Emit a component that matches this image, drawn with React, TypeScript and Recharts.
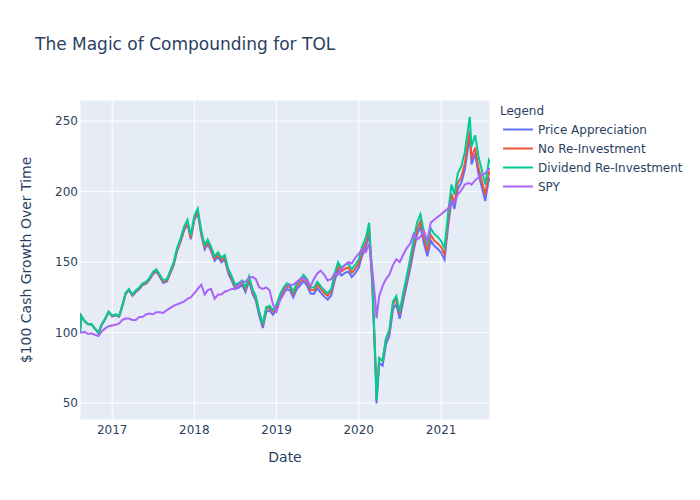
import React from 'react';
import { LineChart, Line, XAxis, YAxis, CartesianGrid } from 'recharts';

const dates = [
  '2016-08-11', '2016-08-16', '2016-09-01', '2016-09-16', '2016-10-01', '2016-10-16', '2016-11-01', '2016-11-16', '2016-12-01', '2016-12-16',
  '2017-01-01', '2017-01-16', '2017-02-01', '2017-02-16', '2017-03-01', '2017-03-16', '2017-04-01', '2017-04-16', '2017-05-01', '2017-05-16', '2017-06-01', '2017-06-16',
  '2017-07-01', '2017-07-16', '2017-08-01', '2017-08-16', '2017-09-01', '2017-09-16', '2017-10-01', '2017-10-16', '2017-11-01', '2017-11-16', '2017-12-01', '2017-12-16',
  '2018-01-01', '2018-01-16', '2018-02-01', '2018-02-16', '2018-03-01', '2018-03-16', '2018-04-01', '2018-04-16', '2018-05-01', '2018-05-16', '2018-06-01', '2018-06-16',
  '2018-07-01', '2018-07-16', '2018-08-01', '2018-08-16', '2018-09-01', '2018-09-16', '2018-10-01', '2018-10-16', '2018-11-01', '2018-11-16', '2018-12-01', '2018-12-16',
  '2019-01-01', '2019-01-16', '2019-02-01', '2019-02-16', '2019-03-01', '2019-03-16', '2019-04-01', '2019-04-16', '2019-05-01', '2019-05-16', '2019-06-01', '2019-06-16',
  '2019-07-01', '2019-07-16', '2019-08-01', '2019-08-16', '2019-09-01', '2019-09-16', '2019-10-01', '2019-10-16', '2019-11-01', '2019-11-16', '2019-12-01', '2019-12-16',
  '2020-01-01', '2020-01-16', '2020-02-01', '2020-02-16', '2020-03-01', '2020-03-16', '2020-03-20', '2020-04-01', '2020-04-16', '2020-05-01', '2020-05-16', '2020-06-01', '2020-06-16',
  '2020-07-01', '2020-07-16', '2020-08-01', '2020-08-16', '2020-09-01', '2020-09-16', '2020-10-01', '2020-10-16', '2020-11-01', '2020-11-16', '2020-12-01', '2020-12-16',
  '2021-01-01', '2021-01-16', '2021-02-01', '2021-02-16', '2021-03-01', '2021-03-16', '2021-04-01', '2021-04-16', '2021-05-01', '2021-05-08', '2021-05-16',
  '2021-06-01', '2021-06-16', '2021-07-01', '2021-07-16', '2021-08-01', '2021-08-06',
];

const priceAppreciation = [
  100, 112, 108, 106, 105.8, 102.7, 99.7, 105.6, 109.5, 114.4,
  111.4, 112.3, 111.3, 119.2, 127.1, 130, 126, 128.8, 130.8, 133.7, 134.7, 137.5, 141.4, 143.3, 139.3, 135.2, 136.2, 142, 147.9, 157.6, 164.5, 172.2, 177.2, 166.2,
  180, 184.7, 169, 159, 162.9, 157.8, 151, 153.8, 149.9, 151.7, 141.9, 136.9, 131, 131.8, 133.8, 128.8, 136.6, 127.7, 122.8, 112, 103.2, 114.8, 115.8, 112.7,
  116.6, 123.3, 128.2, 130.9, 130, 125, 130.8, 133.6, 136.5, 133.5, 127.7, 127.5, 131.4, 128.4, 125.5, 123.4, 126.3, 136.8, 144.5, 140.5, 142.4, 143.3, 139.4, 142.2,
  146, 154.5, 160.3, 170.7, 134.2, 71.8, 49.8, 78.5, 76.6, 91.9, 97.5, 116.6, 120.3, 109.8, 122.1, 133.6, 144.9, 158.2, 169.5, 175.2, 163.7, 154.1, 165.4, 161.6, 159.5,
  156.7, 151.8, 175.5, 194.3, 187.7, 201.7, 206.4, 215.7, 231.8, 239.1, 219.3, 226.8, 212.5, 203, 193.4, 209.4, 207.5,
];

const noReinvestment = [
  100, 112, 108, 106, 106, 102.9, 99.9, 105.9, 109.8, 114.7,
  111.8, 112.7, 111.7, 119.6, 127.6, 130.5, 126.5, 129.4, 131.4, 134.3, 135.3, 138.1, 142.1, 144, 140, 136, 137, 142.8, 148.8, 158.5, 165.5, 173.2, 178.3, 167.3,
  181.3, 186, 170.3, 160.4, 164.3, 159.3, 152.5, 155.3, 151.5, 153.3, 143.5, 138.6, 132.7, 133.5, 135.6, 130.6, 138.5, 129.6, 124.8, 114, 105.2, 116.9, 117.9, 114.8,
  118.8, 125.5, 130.4, 133.2, 132.3, 127.4, 133.2, 136, 139, 136, 130.2, 130.1, 134, 131, 128.1, 126.1, 129, 139.6, 147.3, 143.4, 145.3, 146.2, 142.4, 145.2,
  149.1, 157.6, 163.5, 173.9, 137.4, 75.1, 53.1, 81.9, 80, 95.3, 101, 120.1, 123.8, 113.4, 125.7, 137.2, 148.5, 161.9, 173.2, 179, 167.5, 157.9, 169.2, 165.4, 163.4,
  160.7, 155.8, 179.6, 198.4, 191.8, 205.9, 210.6, 220, 236.1, 243.4, 223.6, 231.2, 216.9, 207.4, 197.8, 213.9, 212,
];

const dividendReinvestment = [
  100, 112, 108, 106, 106, 103, 100, 106, 110, 115,
  112, 113, 112, 120, 128, 131, 127, 130, 132, 135, 136, 139, 143, 145, 141, 137, 138, 144, 150, 160, 167, 175, 180, 169,
  183, 188, 172, 162, 166, 161, 154, 157, 153, 155, 145, 140, 134, 135, 137, 132, 140, 131, 126, 115, 106, 118, 119, 116,
  120, 127, 132, 135, 134, 129, 135, 138, 141, 138, 132, 132, 136, 133, 130, 128, 131, 142, 150, 146, 148, 149, 145, 148,
  152, 161, 167, 178, 140, 75, 52, 82, 80, 96, 102, 122, 126, 115, 128, 140, 152, 166, 178, 184, 172, 162, 174, 170, 168,
  165, 160, 185, 205, 198, 213, 218, 228, 245, 253, 232, 240, 225, 215, 205, 222, 220,
];

const spy = [
  100, 100, 100.5, 99, 99.5, 98.5, 97.5, 101, 103, 104.5,
  105, 105.5, 106.5, 109, 110, 110, 109, 109, 111, 111, 113, 113.5, 113, 114.5, 114.5, 114, 116, 117.5, 119, 120, 121, 122, 124, 125,
  128, 131, 134, 127, 130, 131, 124, 127, 127, 129, 130, 131, 131, 134, 136, 136, 139, 139.5, 138, 132, 131, 132, 130, 120,
  115, 123, 127, 132, 134, 134, 136, 138, 139, 137, 133, 138, 142, 144, 141, 137, 138, 142, 141, 145, 148, 150, 149, 153,
  156, 159, 157, 163, 145, 120, 110, 126, 133, 138, 141, 148, 152, 150, 155, 160, 163, 170, 166, 168, 172, 165, 178, 180, 182,
  184, 186, 188, 193, 193, 198, 201, 205, 206, 206, 205, 208, 210, 212, 213, 216, 216,
];

const yTicks = [50, 100, 150, 200, 250];
const xTickYears = [2017, 2018, 2019, 2020, 2021];

const toTs = (s: string) => Date.parse(s + 'T00:00:00Z');
const data = dates.map((d, i) => ({
  t: toTs(d),
  price: priceAppreciation[i],
  noReinv: noReinvestment[i],
  divReinv: dividendReinvestment[i],
  spy: spy[i],
}));
const xTicks = xTickYears.map((y) => Date.UTC(y, 0, 1));

const series = [
  { key: 'price', name: 'Price Appreciation', color: '#636efa' },
  { key: 'noReinv', name: 'No Re-Investment', color: '#EF553B' },
  { key: 'divReinv', name: 'Dividend Re-Investment', color: '#00cc96' },
  { key: 'spy', name: 'SPY', color: '#ab63fa' },
];

const FONT = '"DejaVu Sans", Verdana, sans-serif';
const TEXT = '#2a3f5f';

export default function App() {
  const tickStyle = { fill: TEXT, fontSize: 12, fontFamily: FONT };
  return (
    <div style={{ position: 'absolute', left: 0, top: 0, width: 700, height: 500, background: '#fff' }}>
      <LineChart
        width={700}
        height={500}
        data={data}
        margin={{ top: 100, right: 210, bottom: 50, left: 20 }}
      >
        <CartesianGrid fill="#E5ECF6" fillOpacity={1} stroke="#ffffff" strokeWidth={1} />
        <XAxis
          dataKey="t"
          type="number"
          domain={[toTs('2016-08-11'), toTs('2021-08-06')]}
          ticks={xTicks}
          tickFormatter={(v: number) => String(new Date(v).getUTCFullYear())}
          axisLine={false}
          tickLine={false}
          tickSize={0}
          tickMargin={5}
          height={30}
          tick={tickStyle}
          allowDataOverflow
        />
        <YAxis
          type="number"
          domain={[38, 265]}
          ticks={yTicks}
          axisLine={false}
          tickLine={false}
          tickSize={0}
          tickMargin={2}
          width={60}
          tick={tickStyle}
          allowDataOverflow
        />
        {series.map((s) => (
          <Line
            key={s.key}
            dataKey={s.key}
            name={s.name}
            stroke={s.color}
            strokeWidth={2}
            dot={false}
            type="linear"
            isAnimationActive={false}
          />
        ))}
      </LineChart>
      <svg
        width={700}
        height={500}
        style={{ position: 'absolute', left: 0, top: 0, pointerEvents: 'none' }}
        fontFamily={FONT}
      >
        <text x={35} y={50} fontSize={17} fill={TEXT}>The Magic of Compounding for TOL</text>
        <text x={285} y={462} fontSize={14} fill={TEXT} textAnchor="middle">Date</text>
        <text x={31} y={260} fontSize={14} fill={TEXT} textAnchor="middle" transform="rotate(-90, 31, 260)">
          $100 Cash Growth Over Time
        </text>
        <text x={500} y={115} fontSize={12} fill={TEXT}>Legend</text>
        {series.map((s, i) => {
          const y = 129.5 + 19 * i;
          return (
            <g key={s.key}>
              <line x1={503} x2={533} y1={y} y2={y} stroke={s.color} strokeWidth={2} />
              <text x={538} y={y + 4.5} fontSize={12} fill={TEXT}>{s.name}</text>
            </g>
          );
        })}
      </svg>
    </div>
  );
}
